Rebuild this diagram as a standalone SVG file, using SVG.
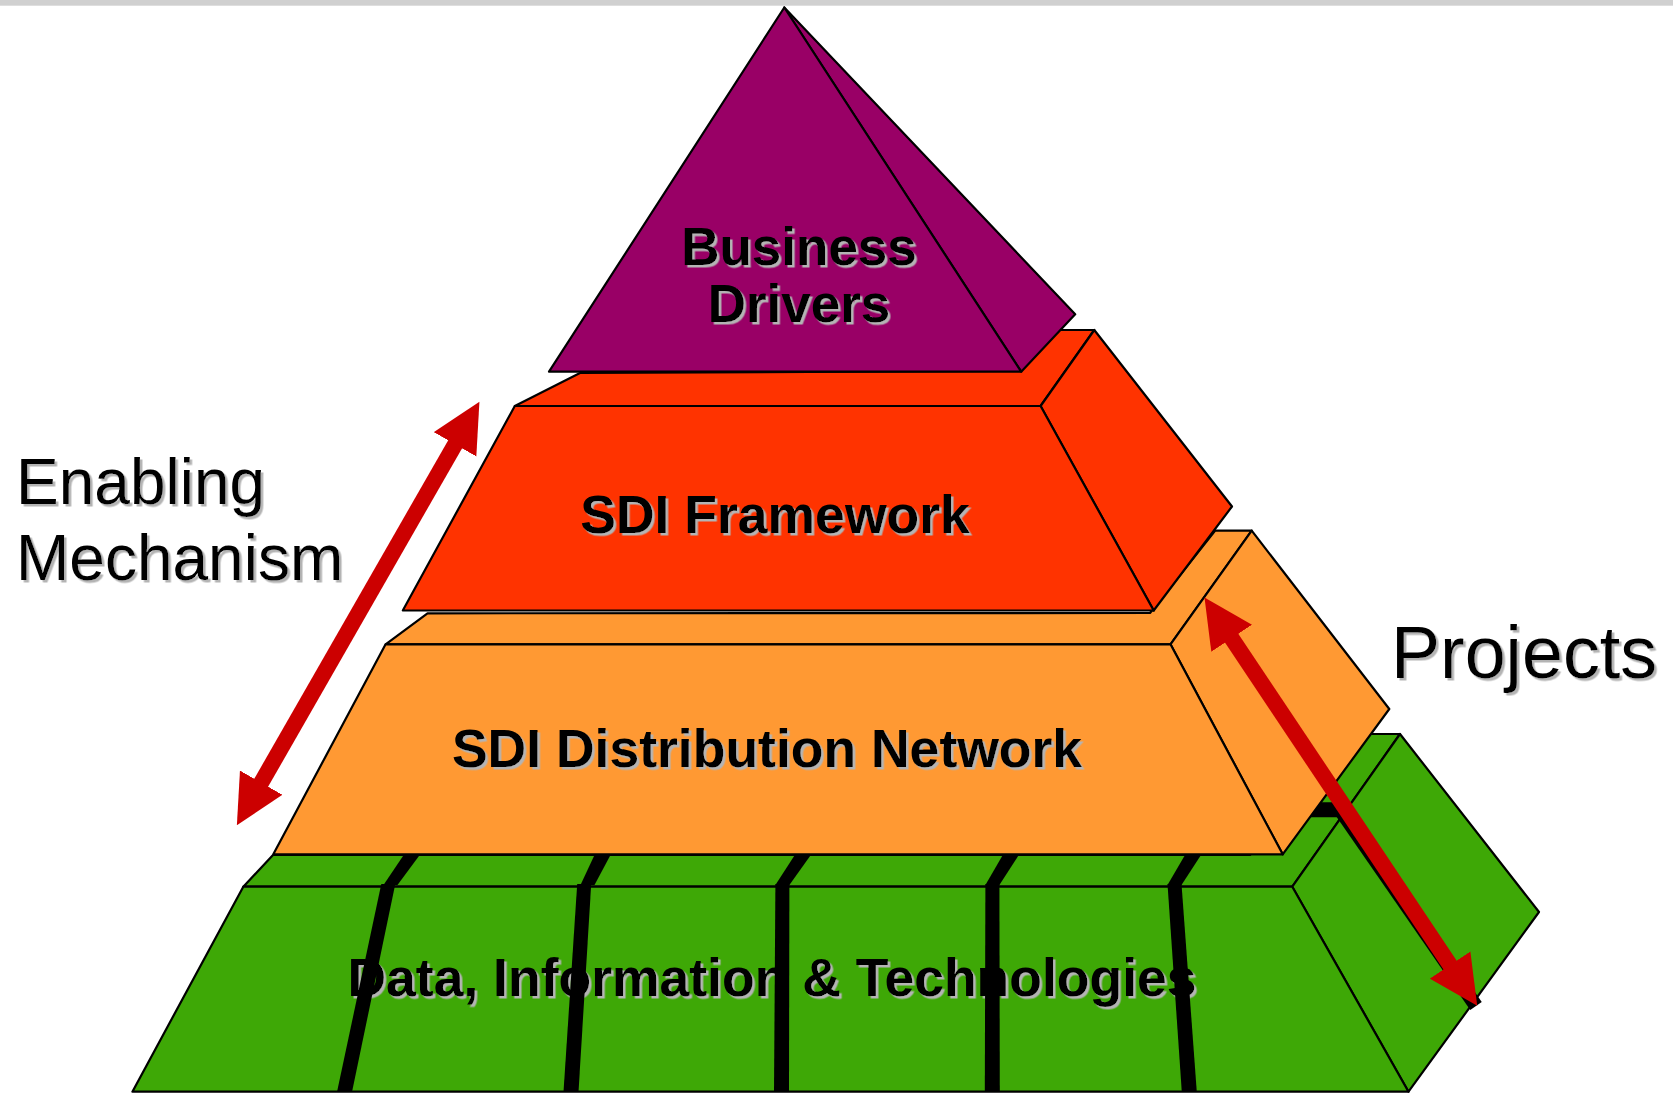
<svg xmlns="http://www.w3.org/2000/svg" width="1673" height="1094" viewBox="0 0 1673 1094">
<defs>
<style>
.edge{stroke:#000;stroke-width:2.2;stroke-linejoin:round}
.purple{fill:#990066}
.red{fill:#FF3300}
.orange{fill:#FF9933}
.green{fill:#3EA806}
.stripe{fill:#000}
.tier{font-family:"Liberation Sans",Arial,sans-serif;font-weight:bold;font-size:53.5px;fill:#000;text-anchor:middle;filter:url(#shadow)}
.label{font-family:"Liberation Sans",Arial,sans-serif;fill:#000;filter:url(#shadow)}
.arrow{stroke:#CC0000;stroke-width:16;fill:none;stroke-linecap:butt}
</style>
<filter id="shadow" x="-5%" y="-20%" width="115%" height="150%">
<feDropShadow dx="2.5" dy="2.5" stdDeviation="0" flood-color="#b4b4b4" flood-opacity="1"/>
</filter>
<marker id="head" markerUnits="userSpaceOnUse" markerWidth="50" markerHeight="50" viewBox="0 -24 48 48" refX="1" refY="0" orient="auto-start-reverse">
<path d="M0,-23.5 L47,0 L0,23.5 Z" fill="#CC0000"/>
</marker>
</defs>

<rect id="topbar" x="0" y="0" width="1673" height="5.7" fill="#d0d0d0"/>

<g id="tier-data">
<polygon class="green edge" points="243.3,886.7 273,855 1250,855 1368,734 1400,734 1292.3,886.7"/>
<polygon class="stripe" points="1300,802.3 1338,802.3 1344,817.3 1293,817.3"/>
<polygon class="green edge" points="1292.3,886.7 1400,734 1539,912 1408.5,1091.7"/>
<polygon class="green edge" points="243.3,886.7 1292.3,886.7 1408.5,1091.7 132.4,1091.7"/>
<text class="tier" x="772" y="996">Data, Information &amp; Technologies</text>
<g id="stripes">
<polygon class="stripe" points="403.7,855 419.7,855 397.5,885 383.5,885"/>
<polygon class="stripe" points="381.3,884 395.3,884 352,1092 337,1092"/>
<polygon class="stripe" points="594.5,855 610.5,855 594.5,885 580.5,885"/>
<polygon class="stripe" points="577.2,884 591.2,884 578.5,1092 563.5,1092"/>
<polygon class="stripe" points="794.8,855 810.8,855 789.4,885 775.4,885"/>
<polygon class="stripe" points="775.4,884 789.4,884 789,1092 774,1092"/>
<polygon class="stripe" points="1002.8,855 1018.8,855 999.4,885 985.4,885"/>
<polygon class="stripe" points="985.4,884 999.4,884 999.8,1092 984.8,1092"/>
<polygon class="stripe" points="1185,855 1201,855 1181.5,885 1167.5,885"/>
<polygon class="stripe" points="1167.5,884 1181.5,884 1196.8,1092 1181.8,1092"/>
<line x1="1341" y1="811" x2="1476" y2="1006" stroke="#000" stroke-width="14"/>
</g>
</g>

<g id="tier-network">
<polygon class="orange edge" points="385.6,644.3 427.5,613.3 1150,613 1215,530.7 1251.7,530.7 1170.5,644.3"/>
<polygon class="orange edge" points="1170.5,644.3 1251.7,530.7 1389.3,709 1282.7,854.3"/>
<polygon class="orange edge" points="385.6,644.3 1170.5,644.3 1282.7,854.3 273.3,854.3"/>
<text class="tier" x="767" y="767">SDI Distribution Network</text>
</g>

<g id="tier-framework">
<polygon class="red edge" points="514.8,406 580,373 1000,371 1045,330 1094.3,330 1040.6,406"/>
<polygon class="red edge" points="1040.6,406 1094.3,330 1232,506.5 1153.7,610.5"/>
<polygon class="red edge" points="514.8,406 1040.6,406 1153.7,610.5 402.8,610.5"/>
<text class="tier" x="775" y="533">SDI Framework</text>
</g>

<g id="tier-business">
<polygon class="purple edge" points="784.3,7.5 1075.2,314.3 1021.2,371.7"/>
<polygon class="purple edge" points="784.3,7.5 1021.2,371.7 549,371.7"/>
<text class="tier" x="799" y="265" style="font-size:53px">Business</text>
<text class="tier" x="799" y="321.5" style="font-size:53px">Drivers</text>
</g>

<g id="connectors">
<line class="arrow" x1="455.6" y1="443.4" x2="260.7" y2="783.6" marker-start="url(#head)" marker-end="url(#head)"/>
<line class="arrow" x1="1231.1" y1="637.4" x2="1450.6" y2="965.9" marker-start="url(#head)" marker-end="url(#head)"/>
</g>

<g id="label-enabling">
<text class="label" x="16" y="504" font-size="64">Enabling</text>
<text class="label" x="16" y="580" font-size="64">Mechanism</text>
</g>
<g id="label-projects">
<text class="label" x="1391" y="678" font-size="75" textLength="266" lengthAdjust="spacingAndGlyphs">Projects</text>
</g>
</svg>
